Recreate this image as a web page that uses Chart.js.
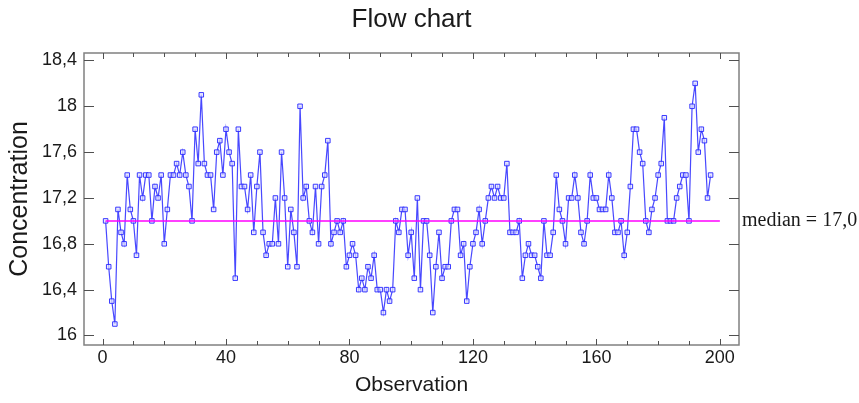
<!DOCTYPE html>
<html>
<head>
<meta charset="utf-8">
<script src="https://cdn.jsdelivr.net/npm/chart.js@4.4.1/dist/chart.umd.min.js"></script>
<style>
  html, body { margin: 0; padding: 0; background: #fff; }
</style>
</head>
<body>
<canvas id="flowChart" width="859" height="403"></canvas>
<script>
// Concentration per observation (observation number = index + 1)
const concentration = [
  17.0, 16.6, 16.3, 16.1, 17.1, 16.9, 16.8, 17.4, 17.1, 17.0,
  16.7, 17.4, 17.2, 17.4, 17.4, 17.0, 17.3, 17.2, 17.4, 16.8,
  17.1, 17.4, 17.4, 17.5, 17.4, 17.6, 17.4, 17.3, 17.0, 17.8,
  17.5, 18.1, 17.5, 17.4, 17.4, 17.1, 17.6, 17.7, 17.4, 17.8,
  17.6, 17.5, 16.5, 17.8, 17.3, 17.3, 17.1, 17.4, 16.9, 17.3,
  17.6, 16.9, 16.7, 16.8, 16.8, 17.2, 16.8, 17.6, 17.2, 16.6,
  17.1, 16.9, 16.6, 18.0, 17.2, 17.3, 17.0, 16.9, 17.3, 16.8,
  17.3, 17.4, 17.7, 16.8, 16.9, 17.0, 16.9, 17.0, 16.6, 16.7,
  16.8, 16.7, 16.4, 16.5, 16.4, 16.6, 16.5, 16.7, 16.4, 16.4,
  16.2, 16.4, 16.3, 16.4, 17.0, 16.9, 17.1, 17.1, 16.7, 16.9,
  16.5, 17.2, 16.4, 17.0, 17.0, 16.7, 16.2, 16.6, 16.9, 16.5,
  16.6, 16.6, 17.0, 17.1, 17.1, 16.7, 16.8, 16.3, 16.6, 16.8,
  16.9, 17.1, 16.8, 17.0, 17.2, 17.3, 17.2, 17.3, 17.2, 17.2,
  17.5, 16.9, 16.9, 16.9, 17.0, 16.5, 16.7, 16.8, 16.7, 16.7,
  16.6, 16.5, 17.0, 16.7, 16.7, 16.9, 17.4, 17.1, 17.0, 16.8,
  17.2, 17.2, 17.4, 17.2, 16.9, 16.8, 17.0, 17.4, 17.2, 17.2,
  17.1, 17.1, 17.1, 17.4, 17.2, 16.9, 16.9, 17.0, 16.7, 16.9,
  17.3, 17.8, 17.8, 17.6, 17.5, 17.0, 16.9, 17.1, 17.2, 17.4,
  17.5, 17.9, 17.0, 17.0, 17.0, 17.2, 17.3, 17.4, 17.4, 17.0,
  18.0, 18.2, 17.6, 17.8, 17.7, 17.2, 17.4
];
const median = 17.0;
const medianRange = [1, 200];
const xTicks = [0, 40, 80, 120, 160, 200];
const yTicks = [16, 16.4, 16.8, 17.2, 17.6, 18, 18.4];

const sans = '"Liberation Sans", Arial, sans-serif';
const textColor = '#1a1a1a';

const fmtComma = v => String(Math.round(v * 10) / 10).replace('.', ',');

// frame with inward ticks on all four sides, title over the plot, median label
const framePlugin = {
  id: 'frame',
  beforeDatasetsDraw(chart) {
    const { ctx, chartArea: a, scales: { x, y } } = chart;
    ctx.save();
    ctx.strokeStyle = '#808080';
    ctx.lineWidth = 1.5;
    ctx.strokeRect(a.left, a.top, a.right - a.left, a.bottom - a.top);
    ctx.lineWidth = 1;
    ctx.strokeStyle = '#505050';
    ctx.beginPath();
    for (let v = 0; v <= 200; v += 10) {
      const px = Math.round(x.getPixelForValue(v)) + 0.5;
      const len = v % 40 === 0 ? 6 : 4;
      ctx.moveTo(px, a.bottom);
      ctx.lineTo(px, a.bottom - len);
      ctx.moveTo(px, a.top);
      ctx.lineTo(px, a.top + len);
    }
    yTicks.forEach(v => {
      const py = Math.round(y.getPixelForValue(v)) + 0.5;
      ctx.moveTo(a.left, py);
      ctx.lineTo(a.left + 10, py);
      ctx.moveTo(a.right, py);
      ctx.lineTo(a.right - 10, py);
    });
    ctx.stroke();
    ctx.restore();
  },
  afterDraw(chart) {
    const { ctx, chartArea: a, scales: { y } } = chart;
    ctx.save();
    ctx.fillStyle = textColor;
    ctx.textBaseline = 'middle';
    ctx.textAlign = 'center';
    ctx.font = '26px ' + sans;
    ctx.fillText('Flow chart', (a.left + a.right) / 2, 20);
    ctx.textAlign = 'left';
    ctx.font = '20px "Liberation Serif", "Times New Roman", serif';
    ctx.fillText('median = ' + median.toFixed(1).replace('.', ','), a.right + 3, y.getPixelForValue(median));
    ctx.restore();
  }
};

const ctx = document.getElementById('flowChart').getContext('2d');
new Chart(ctx, {
  type: 'line',
  data: {
    datasets: [
      {
        label: 'median',
        data: medianRange.map(v => ({ x: v, y: median })),
        borderColor: '#ff00ff',
        borderWidth: 1.5,
        pointRadius: 0
      },
      {
        label: 'Concentration',
        data: concentration.map((v, i) => ({ x: i + 1, y: v })),
        borderColor: 'rgba(40,40,255,0.85)',
        borderWidth: 1.2,
        tension: 0,
        pointStyle: 'rect',
        pointRadius: 3.2,
        pointBorderWidth: 1,
        pointBorderColor: 'rgba(40,40,255,0.9)',
        pointBackgroundColor: 'rgba(225,225,255,0.7)'
      }
    ]
  },
  options: {
    responsive: false,
    animation: false,
    layout: { padding: { left: 0, right: 120, top: 53, bottom: 0 } },
    plugins: {
      legend: { display: false },
      tooltip: { enabled: false },
      title: { display: false }
    },
    scales: {
      x: {
        type: 'linear',
        min: -6,
        max: 206.2,
        afterBuildTicks: s => { s.ticks = xTicks.map(v => ({ value: v })); },
        afterFit: s => { s.height = 58; },
        grid: { display: false, drawTicks: false },
        border: { display: false },
        ticks: { padding: 2, color: textColor, maxRotation: 0, font: { family: sans, size: 18 } },
        title: {
          display: true,
          text: 'Observation',
          color: textColor,
          font: { family: sans, size: 21 },
          padding: { top: 0, bottom: 5.4 }
        }
      },
      y: {
        type: 'linear',
        min: 15.917,
        max: 18.465,
        afterBuildTicks: s => { s.ticks = yTicks.map(v => ({ value: v })); },
        afterFit: s => { s.width = 84; },
        grid: { display: false, drawTicks: false },
        border: { display: false },
        ticks: { padding: 7, color: textColor, font: { family: sans, size: 18 }, callback: v => fmtComma(v) },
        title: {
          display: true,
          text: 'Concentration',
          color: textColor,
          font: { family: sans, size: 25 },
          padding: { top: 5, bottom: 0 }
        }
      }
    }
  },
  plugins: [framePlugin]
});
</script>
</body>
</html>
